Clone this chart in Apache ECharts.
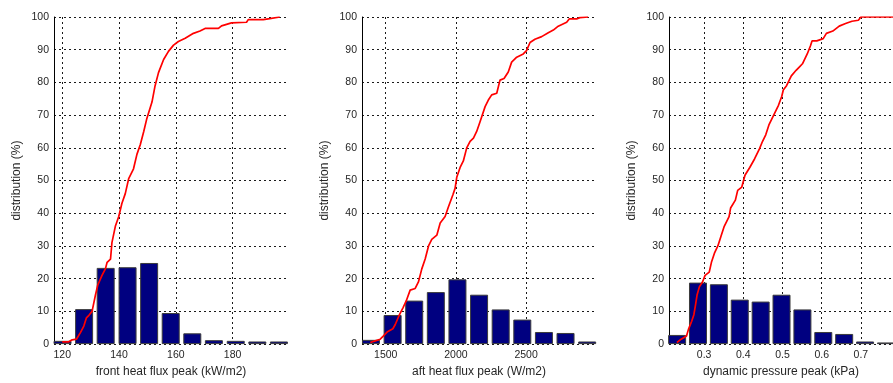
<!DOCTYPE html>
<html>
<head>
<meta charset="utf-8">
<script src="https://cdn.jsdelivr.net/npm/echarts@6/dist/echarts.min.js"></script>
<style>
  html, body { margin: 0; padding: 0; background: #fff; }
  #chart { width: 893px; height: 383px; }
</style>
</head>
<body>
<div id="chart"></div>
<script>
// ---- front heat flux peak (kW/m2) ----
const frontBinCenters = [120.1, 127.7, 135.3, 143.0, 150.6, 158.2, 165.8, 173.4, 181.1, 188.7, 196.3];
const frontBinPercent = [1.0, 10.7, 23.3, 23.5, 24.8, 9.5, 3.3, 1.2, 1.0, 0.8, 0.8];
const frontCdfX = [120.0, 122.3, 123.5, 125.0, 126.4, 127.6, 128.5, 129.4, 130.5, 131.7, 132.5, 134.0,
  135.2, 135.8, 137.0, 137.5, 138.7, 139.9, 141.0, 142.2, 143.4, 145.1, 146.3, 147.5, 148.7, 149.8,
  151.6, 152.7, 153.9, 155.7, 157.4, 159.2, 160.9, 163.3, 166.2, 168.5, 170.3, 175.0, 176.1, 179.6,
  184.9, 185.5, 190.8, 193.1, 196.6];
const frontCdfY = [0.7, 0.7, 1.3, 1.5, 3.5, 5.5, 8.0, 8.8, 10.0, 15.0, 18.0, 21.0,
  23.0, 25.0, 26.0, 31.0, 36.0, 39.0, 43.0, 46.0, 50.6, 53.6, 58.0, 61.0, 65.0, 69.0,
  74.0, 79.0, 83.0, 87.0, 89.5, 91.4, 92.5, 93.5, 95.0, 95.7, 96.5, 96.5, 97.3, 98.2,
  98.4, 99.2, 99.2, 99.5, 100.0];
const frontTicks = [120, 140, 160, 180];

// ---- aft heat flux peak (W/m2) ----
const aftBinCenters = [1395, 1549, 1703, 1857, 2011, 2165, 2319, 2473, 2627, 2781, 2935];
const aftBinPercent = [1.3, 8.9, 13.3, 15.9, 19.8, 15.1, 10.6, 7.5, 3.7, 3.4, 0.8];
const aftCdfX = [1390, 1425, 1461, 1484, 1513, 1551, 1568, 1598, 1622, 1646, 1674, 1710, 1733, 1757,
  1781, 1805, 1828, 1864, 1888, 1923, 1947, 1978, 1994, 2006, 2030, 2053, 2077, 2101, 2125, 2148,
  2172, 2208, 2231, 2255, 2291, 2314, 2343, 2373, 2397, 2433, 2480, 2503, 2528, 2563, 2611, 2658,
  2694, 2729, 2789, 2807, 2860, 2883, 2942];
const aftCdfY = [0.5, 1.0, 1.5, 2.5, 3.8, 4.7, 6.0, 9.0, 11.0, 13.2, 16.5, 17.0, 19.0, 23.0,
  26.0, 30.0, 32.0, 33.3, 37.0, 39.0, 42.0, 45.6, 47.6, 51.0, 54.0, 56.0, 60.0, 62.0, 63.0, 65.0,
  68.0, 72.6, 74.6, 76.2, 76.7, 80.7, 81.2, 83.2, 86.2, 87.7, 88.7, 89.7, 92.2, 93.2, 94.0, 95.2,
  96.0, 97.2, 98.4, 99.4, 99.4, 99.8, 100.0];
const aftTicks = [1500, 2000, 2500];

// ---- dynamic pressure peak (kPa) ----
const pressBinCenters = [0.2310, 0.2843, 0.3376, 0.3909, 0.4442, 0.4975, 0.5508, 0.6041, 0.6574, 0.7107, 0.7640];
const pressBinPercent = [2.8, 18.8, 18.3, 13.6, 13.0, 15.1, 10.6, 3.7, 3.1, 0.8, 0.5];
const pressCdfX = [0.2306, 0.2413, 0.2550, 0.2599, 0.2682, 0.2738, 0.2780, 0.2819, 0.2878, 0.2958,
  0.3024, 0.3130, 0.3186, 0.3269, 0.3350, 0.3430, 0.3513, 0.3636, 0.3675, 0.3797, 0.3856, 0.3961,
  0.4042, 0.4164, 0.4286, 0.4408, 0.4491, 0.4572, 0.4653, 0.4775, 0.4897, 0.4980, 0.5020, 0.5103,
  0.5225, 0.5347, 0.5428, 0.5509, 0.5631, 0.5714, 0.5753, 0.5875, 0.6039, 0.6120, 0.6284, 0.6447,
  0.6609, 0.6773, 0.6936, 0.7000, 0.7900];
const pressCdfY = [0.5, 1.5, 2.5, 4.5, 7.0, 9.0, 12.0, 15.0, 17.5, 19.0,
  21.0, 22.0, 25.0, 28.0, 30.0, 33.0, 36.0, 39.0, 41.6, 44.0, 47.0, 48.0,
  51.6, 54.0, 56.6, 59.6, 62.0, 64.0, 67.0, 70.0, 73.0, 75.7, 77.7, 79.0,
  82.0, 83.7, 84.7, 85.7, 88.7, 91.2, 92.7, 92.7, 93.4, 95.0, 95.7, 97.2,
  98.0, 98.7, 99.0, 100.0, 100.0];
const pressTicks = [0.3, 0.4, 0.5, 0.6, 0.7];

const yAxisName = 'distribution (%)';

const FONT = '"Liberation Sans", Arial, Helvetica, sans-serif';
const TEXT = '#262626';
const gridDash = { color: '#1a1a1a', width: 1, type: [2, 3] };

const panels = [
  { left: 54, min: 117.1, max: 199.5, ticks: frontTicks, centers: frontBinCenters, pct: frontBinPercent,
    cdfX: frontCdfX, cdfY: frontCdfY, name: 'front heat flux peak (kW/m2)' },
  { left: 362, min: 1331, max: 2998, ticks: aftTicks, centers: aftBinCenters, pct: aftBinPercent,
    cdfX: aftCdfX, cdfY: aftCdfY, name: 'aft heat flux peak (W/m2)' },
  { left: 669, min: 0.2103, max: 0.782, ticks: pressTicks, centers: pressBinCenters, pct: pressBinPercent,
    cdfX: pressCdfX, cdfY: pressCdfY, name: 'dynamic pressure peak (kPa)' }
];

const option = {
  animation: false,
  backgroundColor: '#fff',
  grid: [], xAxis: [], yAxis: [], series: []
};

panels.forEach((p, i) => {
  option.grid.push({ left: p.left, top: 17, width: 234, height: 333, containLabel: false });
  option.xAxis.push({
    type: 'value', gridIndex: i, min: p.min, max: p.max,
    name: p.name, nameLocation: 'middle', nameGap: 20,
    nameTextStyle: { fontFamily: FONT, fontSize: 12, color: TEXT },
    axisLine: { show: false },
    axisTick: { show: false, customValues: p.ticks },
    axisLabel: {
      customValues: p.ticks, fontFamily: FONT, fontSize: 10.5, color: TEXT, margin: 6,
      formatter: (v) => String(v)
    },
    splitLine: { show: true, lineStyle: gridDash }
  });
  option.yAxis.push({
    type: 'value', gridIndex: i, min: 0, max: 100, interval: 10,
    name: yAxisName, nameLocation: 'middle', nameGap: 31,
    nameTextStyle: { fontFamily: FONT, fontSize: 12, color: TEXT },
    axisLine: { show: true, lineStyle: { color: '#000', width: 1 } },
    axisTick: { show: false },
    axisLabel: { fontFamily: FONT, fontSize: 10.5, color: TEXT, margin: 5 },
    splitLine: { show: true, lineStyle: gridDash }
  });
  option.series.push({
    type: 'bar', xAxisIndex: i, yAxisIndex: i,
    data: p.centers.map((c, k) => [c, p.pct[k]]),
    barWidth: 18,
    itemStyle: { color: '#000080', borderColor: '#3c3c3c', borderWidth: 1 },
    z: 2
  });
  option.series.push({
    type: 'line', xAxisIndex: i, yAxisIndex: i,
    data: p.cdfX.map((x, k) => [x, p.cdfY[k]]),
    showSymbol: false, symbol: 'none',
    lineStyle: { color: '#ff0000', width: 1.7 },
    z: 3
  });
});

const chart = echarts.init(document.getElementById('chart'), null, { renderer: 'canvas' });
chart.setOption(option);
</script>
</body>
</html>
